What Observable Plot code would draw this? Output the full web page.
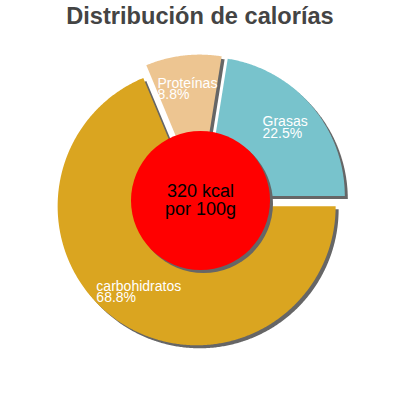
<!DOCTYPE html>
<html><head><meta charset="utf-8">
<script src="https://cdn.jsdelivr.net/npm/d3@7"></script>
<script src="https://cdn.jsdelivr.net/npm/@observablehq/plot@0.6"></script>
<style>
body{margin:0;background:#fff;font-family:"Liberation Sans",Arial,sans-serif;}
#title{height:34px;box-sizing:border-box;padding-top:2px;text-align:center;font-weight:bold;font-size:23.6px;line-height:28px;color:#444;white-space:nowrap;}
#chart svg{display:block;}
</style></head><body>
<div id="title">Distribución de calorías</div>
<div id="chart"></div>
<script>
// data
const categories = ["Grasas", "Proteínas", "carbohidratos"];
const percents = [22.5, 8.8, 68.8];
const centerLines = ["320 kcal", "por 100g"];

// styles
const colors = ["#78c3cc", "#edc591", "#daa520"];
const R = 139;            // pie radius in px
const explode = 0.05;
const labelDist = 0.8;
const font = "'Liberation Sans', Arial, sans-serif";

const total = d3.sum(percents);
let acc = 0;
const slices = categories.map((c, i) => {
  const a0 = acc / total * 360; acc += percents[i];
  const a1 = acc / total * 360;
  return {category: c, value: percents[i], a0, a1, mid: (a0 + a1) / 2};
});
const rad = Math.PI / 180;
const pts = [];
for (const s of slices) {
  const ox = explode * Math.cos(s.mid * rad), oy = explode * Math.sin(s.mid * rad);
  pts.push({category: s.category, x: ox, y: oy});
  const n = Math.ceil((s.a1 - s.a0) / 0.5);
  for (let k = 0; k <= n; k++) {
    const a = (s.a0 + (s.a1 - s.a0) * k / n) * rad;
    pts.push({category: s.category, x: ox + Math.cos(a), y: oy + Math.sin(a)});
  }
}
const ctx = document.createElement("canvas").getContext("2d");
ctx.font = "14px 'Liberation Sans'";
const labels = slices.map(s => {
  const lines = [s.category, s.value.toFixed(1) + "%"];
  const w = d3.max(lines, l => ctx.measureText(l).width);
  return {
    text: lines.join("\n"),
    x: labelDist * Math.cos(s.mid * rad) - w / 2 / R,
    y: labelDist * Math.sin(s.mid * rad)
  };
});

const cx = 200, cy = 166;
const chart = Plot.plot({
  width: 400, height: 366, margin: 0,
  x: {domain: [-1, 1], range: [cx - R, cx + R], axis: null},
  y: {domain: [-1, 1], range: [cy + R, cy - R], axis: null},
  color: {domain: categories, range: colors},
  marks: [
    Plot.line(pts, {x: "x", y: "y", z: "category", fill: "#666", stroke: "none", curve: "linear-closed", dx: 3, dy: 3}),
    Plot.line(pts, {x: "x", y: "y", z: "category", fill: "category", stroke: "none", curve: "linear-closed"}),
    Plot.dot([{x: 0, y: 0}], {x: "x", y: "y", r: R / 2, fill: "#666", dx: 3, dy: 3}),
    Plot.dot([{x: 0, y: 0}], {x: "x", y: "y", r: R / 2, fill: "#ff0000"}),
    Plot.text(labels, {x: "x", y: "y", text: "text", textAnchor: "start", lineAnchor: "middle", lineHeight: 0.82, fontSize: 14, fill: "white", fontFamily: font}),
    Plot.text([{x: 0, y: 0, text: centerLines.join("\n")}], {x: "x", y: "y", text: "text", lineAnchor: "middle", lineHeight: 1, fontSize: 18, fill: "black", fontFamily: font})
  ]
});
document.getElementById("chart").appendChild(chart);
</script>
</body></html>
